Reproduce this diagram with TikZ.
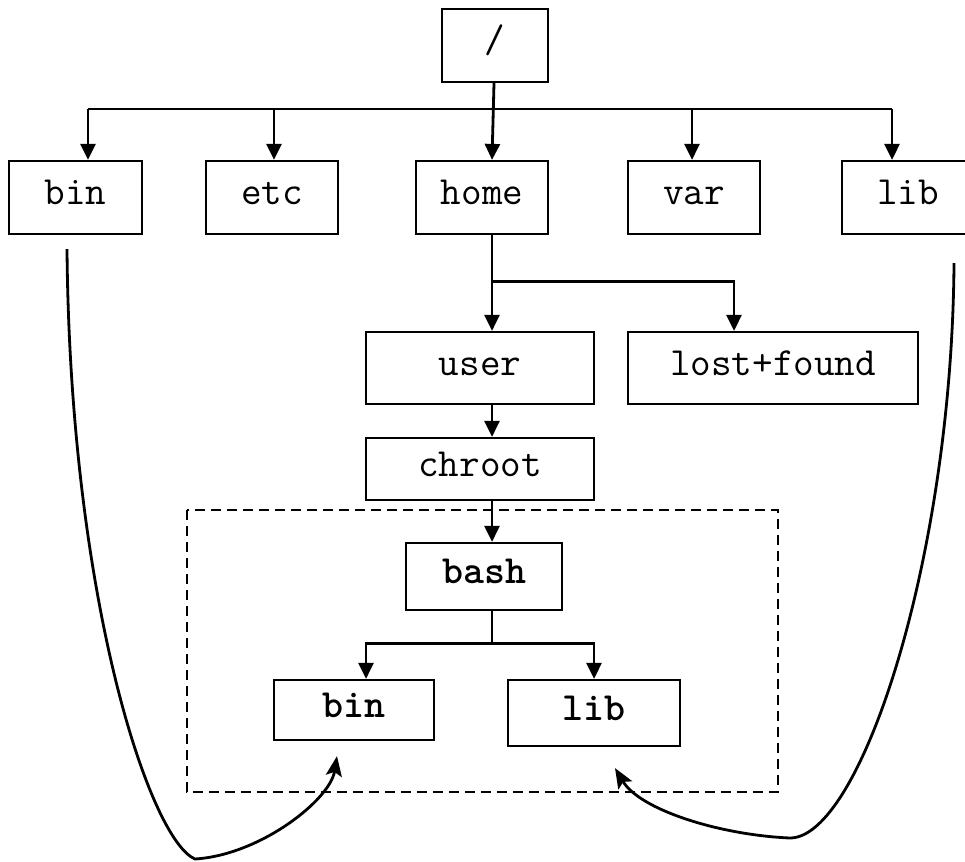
\documentclass[tikz,border=0pt]{standalone}
\usepackage{fontspec}
\usetikzlibrary{arrows.meta,calc}
\begin{document}
\begin{tikzpicture}[x=1pt,y=-1pt,
  dirbox/.style={draw,line width=2.2pt,inner sep=0pt,
    font=\ttfamily\fontsize{40}{40}\selectfont,
    text height=22pt,text depth=8pt},
  boldbox/.style={dirbox,font=\ttfamily\bfseries\fontsize{40}{40}\selectfont},
  link/.style={line width=2.8pt},
  arr/.style={link,-{Triangle[length=16pt,width=15pt]}},
  curvearr/.style={line width=2.8pt,-{Stealth[length=20pt,width=16pt,inset=4pt]}}]
\useasboundingbox (0,0) rectangle (965,861);

% top level
\node[dirbox,minimum width=106pt,minimum height=73pt] (root) at (495,45.5) {/};
\node[dirbox,minimum width=133pt,minimum height=73pt] (bin)  at (75.5,197.5) {bin};
\node[dirbox,minimum width=132pt,minimum height=73pt] (etc)  at (272,197.5) {etc};
\node[dirbox,minimum width=132pt,minimum height=73pt] (home) at (482,197.5) {home};
\node[dirbox,minimum width=132pt,minimum height=73pt] (var)  at (694,197.5) {var};
\node[dirbox,minimum width=132pt,minimum height=73pt] (lib)  at (908,197.5) {lib};

% second level
\node[dirbox,minimum width=228pt,minimum height=72pt] (user)  at (480,368) {user};
\node[dirbox,minimum width=290pt,minimum height=72pt] (lost)  at (773,368) {lost+found};
\node[dirbox,minimum width=228pt,minimum height=62pt] (chroot) at (480,469) {chroot};

% chroot jail
\draw[line width=2.8pt,dash pattern=on 10pt off 6pt] (187,510) rectangle (778,792);
\node[boldbox,minimum width=156pt,minimum height=67pt] (bash) at (484,576.5) {bash};
\node[boldbox,minimum width=160pt,minimum height=60pt] (ibin) at (354,710) {bin};
\node[boldbox,minimum width=172pt,minimum height=66pt] (ilib) at (594,713) {lib};

% bus below the root
\coordinate (busL) at (88,109);
\coordinate (busR) at (892,109);
\draw[link] (busL) -- (busR);
\draw[arr] (busL) -- (busL |- bin.north);
\draw[arr] (274,109) -- (274,109 |- etc.north);
\draw[arr] ($(root.south)+(-1,0)$) -- ($(home.north)+(10,0)$);
\draw[arr] (692,109) -- (692,109 |- var.north);
\draw[arr] (busR) -- (busR |- lib.north);

% home subtree
\coordinate (hb) at ($(home.south)+(10,0)$);
\coordinate (hsplit) at ($(hb)+(0,46)$);
\draw[arr] (hb) -- (hb |- user.north);
\draw[arr] (hsplit) -| (734,0 |- lost.north);
\draw[arr] ($(user.south)+(12,0)$) -- ($(chroot.north)+(12,0)$);
\draw[arr] ($(chroot.south)+(12,0)$) -- ($(bash.north)+(8,0)$);

% bash subtree
\coordinate (bb) at ($(bash.south)+(8,0)$);
\coordinate (bsplit) at ($(bb)+(0,32)$);
\draw[link] (bb) -- (bsplit);
\draw[arr] (bsplit) -| ($(ibin.north)+(12,0)$);
\draw[arr] (bsplit) -| (ilib.north);

% links from the real bin and lib into the jail
\coordinate (binfoot) at ($(bin.south)+(-8.5,14)$);
\coordinate (libfoot) at ($(lib.south)+(46,28)$);
\coordinate (lowL) at (195,859);
\coordinate (lowR) at (790,838);
\draw[curvearr] (binfoot) .. controls (70,600) and (150,840) .. (lowL)
  .. controls (260,855) and (330,800) .. ($(ibin.south)+(-17,15)$);
\draw[curvearr] (libfoot) .. controls (952,560) and (860,838) .. (lowR)
  .. controls (720,835) and (640,810) .. ($(ilib.south)+(21,21)$);
\end{tikzpicture}
\end{document}
